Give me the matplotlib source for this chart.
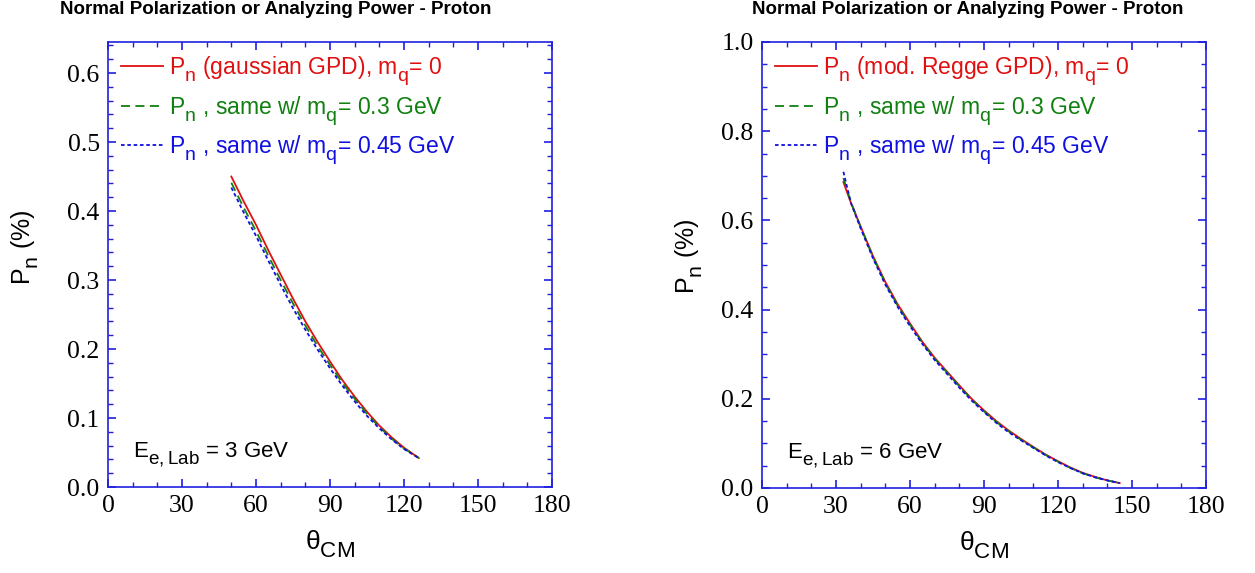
import matplotlib
matplotlib.use("Agg")
import matplotlib.pyplot as plt
import matplotlib._mathtext as mt
from matplotlib.ticker import MultipleLocator

plt.rcParams['font.family'] = ['Liberation Sans', 'DejaVu Sans']
plt.rcParams['mathtext.fontset'] = 'custom'
plt.rcParams['mathtext.rm'] = 'Liberation Sans'
plt.rcParams['mathtext.it'] = 'Liberation Sans:italic'
# the original uses near full-size, well dropped subscripts
mt.SHRINK_FACTOR = 0.85
mt.FontConstantsBase.sub1 = 0.6
mt.FontConstantsBase.sub2 = 0.7

# left panel, E = 3 GeV (gaussian GPD)
th3 = [50, 55, 60, 65, 70, 75, 80, 85, 90, 95, 100, 105, 110, 115, 120, 126]
red3 = [0.450, 0.414, 0.380, 0.343, 0.308, 0.273, 0.240, 0.210, 0.182, 0.155,
        0.131, 0.109, 0.089, 0.072, 0.057, 0.042]
green3 = [0.441, 0.405, 0.371, 0.335, 0.300, 0.266, 0.234, 0.204, 0.177, 0.151,
          0.128, 0.106, 0.087, 0.070, 0.056, 0.042]
blue3 = [0.434, 0.398, 0.364, 0.328, 0.293, 0.259, 0.228, 0.199, 0.172, 0.147,
         0.124, 0.103, 0.085, 0.069, 0.055, 0.042]

# right panel, E = 6 GeV (mod. Regge GPD)
th6 = [33, 36, 40, 45, 50, 55, 60, 65, 70, 75, 80, 85, 90, 95, 100, 105, 110,
       115, 120, 125, 130, 135, 140, 145]
red6 = [0.686, 0.640, 0.586, 0.520, 0.462, 0.412, 0.369, 0.328, 0.292, 0.261,
        0.230, 0.200, 0.174, 0.150, 0.129, 0.110, 0.092, 0.075, 0.060, 0.046,
        0.034, 0.025, 0.017, 0.011]
green6 = [0.695, 0.642, 0.585, 0.518, 0.459, 0.409, 0.366, 0.326, 0.290, 0.259,
          0.228, 0.198, 0.172, 0.148, 0.127, 0.108, 0.091, 0.074, 0.059, 0.045,
          0.033, 0.024, 0.017, 0.011]
blue6 = [0.709, 0.640, 0.582, 0.515, 0.456, 0.406, 0.363, 0.323, 0.287, 0.256,
         0.225, 0.196, 0.170, 0.146, 0.125, 0.107, 0.090, 0.073, 0.058, 0.045,
         0.033, 0.024, 0.017, 0.011]

title = "Normal Polarization or Analyzing Power - Proton"
red, green, blue = '#e01010', '#108010', '#1010e0'
axcol = '#2020e0'

fig = plt.figure(figsize=(12.55, 5.73), dpi=100)
axL = fig.add_axes([108/1255, 86/573, 444/1255, 445/573])
axR = fig.add_axes([762/1255, 85/573, 444/1255, 446/573])


def style(ax, ymax, ymaj, ymin):
    ax.set_xlim(0, 180)
    ax.set_ylim(0, ymax)
    ax.xaxis.set_major_locator(MultipleLocator(30))
    ax.xaxis.set_minor_locator(MultipleLocator(10))
    ax.yaxis.set_major_locator(MultipleLocator(ymaj))
    ax.yaxis.set_minor_locator(MultipleLocator(ymin))
    ax.yaxis.set_major_formatter(matplotlib.ticker.FormatStrFormatter('%.1f'))
    for s in ax.spines.values():
        s.set_color(axcol)
        s.set_linewidth(1.2)
    ax.tick_params(which='both', direction='in', top=True, right=True, color=axcol)
    ax.tick_params(which='major', length=6, width=1.2, pad=6)
    ax.tick_params(which='minor', length=3.5, width=1)
    for lab in ax.get_xticklabels() + ax.get_yticklabels():
        lab.set_family('Liberation Serif')
        lab.set_fontsize(18.5)
    ax.set_xlabel(r'θ$_{\mathrm{CM}}$', fontsize=19, labelpad=8)
    ax.set_ylabel(r'P$_{\mathrm{n}}$ (%)', fontsize=18)


for ax, th, r, g, b, name, ymax, ymaj, ymin, en in [
        (axL, th3, red3, green3, blue3, 'gaussian GPD', 0.645, 0.1, 0.02, 3),
        (axR, th6, red6, green6, blue6, 'mod. Regge GPD', 1.0, 0.2, 0.05, 6)]:
    ax.plot(th, r, '-', color=red, lw=1.3,
            label=r'P$_{\mathrm{n}}$ (' + name + r'), m$_{\mathrm{q}}$= 0')
    ax.plot(th, g, '--', color=green, lw=1.3, dashes=(5, 3),
            label=r'P$_{\mathrm{n}}$ , same w/ m$_{\mathrm{q}}$= 0.3 GeV')
    ax.plot(th, b, '--', color=blue, lw=1.3, dashes=(2, 1.5),
            label=r'P$_{\mathrm{n}}$ , same w/ m$_{\mathrm{q}}$= 0.45 GeV')
    style(ax, ymax, ymaj, ymin)
    ax.legend(loc='upper left', frameon=False, fontsize=16.5,
              handlelength=1.85, handletextpad=0.25, labelspacing=0.26,
              borderaxespad=0.15, labelcolor='linecolor')
    ax.text(0.056, 0.067, r'E$_{\mathrm{e,Lab}}$ = %d GeV' % en,
            transform=ax.transAxes, fontsize=16, va='baseline')

axL.yaxis.set_label_coords(-0.15, 0.54)
axR.yaxis.set_label_coords(-0.128, 0.52)

fig.text(60/1255, 1 - 10/573, title, fontsize=13.5, fontweight='bold', va='center')
fig.text(752/1255, 1 - 10/573, title, fontsize=13.5, fontweight='bold', va='center')

fig.savefig('out.png', dpi=100)
